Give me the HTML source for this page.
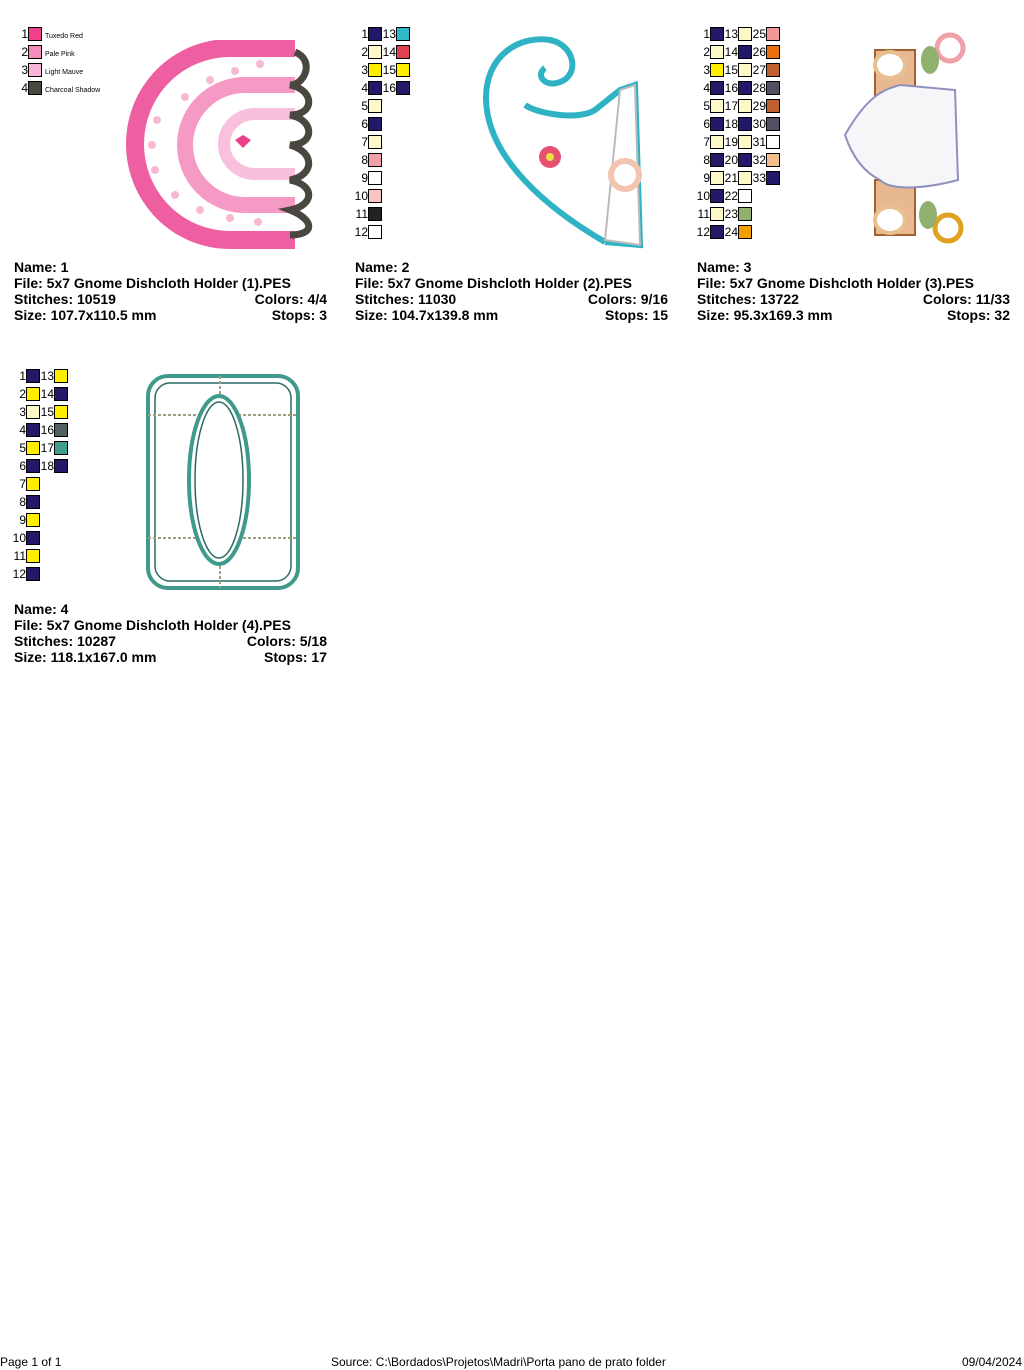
<!DOCTYPE html>
<html><head><style>
body{margin:0;width:1024px;height:1370px;background:#fff;position:relative;font-family:"Liberation Sans",Arial,sans-serif;overflow:hidden}
.a{position:absolute}
.r{height:18px;line-height:18px;font-size:12px;white-space:nowrap}
.num{display:inline-block;text-align:right;width:14px;vertical-align:top}
.s{display:inline-block;width:12px;height:12px;border:1px solid #000;vertical-align:top;margin-top:2px}
.info{position:absolute;font-weight:bold;font-size:14px;line-height:16px;width:313px}
.info div{position:relative;height:16px}
.info span.rt{position:absolute;right:0}
.cN{background:#221a66}.cC{background:#fff8c8}.cY{background:#ffee00}.cW{background:#fff}
.ft{position:absolute;top:1355px;font-size:12px}
</style></head><body>

<div class="a" style="left:14px;top:25px">
<div class="r"><span class="num">1</span><span class="s" style="background:#f0408c"></span><span style="font-size:7px;margin-left:3px">Tuxedo Red</span></div>
<div class="r"><span class="num">2</span><span class="s" style="background:#f58cbc"></span><span style="font-size:7px;margin-left:3px">Pale Pink</span></div>
<div class="r"><span class="num">3</span><span class="s" style="background:#fab4d8"></span><span style="font-size:7px;margin-left:3px">Light Mauve</span></div>
<div class="r"><span class="num">4</span><span class="s" style="background:#4a4640"></span><span style="font-size:7px;margin-left:3px">Charcoal Shadow</span></div>
</div>
<svg class="a" style="left:120px;top:40px" width="210" height="210">
<path d="M175 8 L110 8 A95 96 0 0 0 110 200 L175 200" fill="none" stroke="#ee5fa2" stroke-width="18"/>
<path d="M175 45 L125 45 A60 60 0 0 0 125 165 L175 165" fill="none" stroke="#f49ac4" stroke-width="16"/>
<path d="M175 74 L135 74 A31 30 0 0 0 135 134 L175 134" fill="none" stroke="#f8c0dc" stroke-width="12"/>
<path d="M115 100 l8 -5 l8 5 l-8 8z" fill="#ec3f8c"/>
<g fill="#f7b8d4"><circle cx="140" cy="24" r="4"/><circle cx="115" cy="31" r="4"/><circle cx="90" cy="40" r="4"/><circle cx="65" cy="57" r="4"/><circle cx="37" cy="80" r="4"/><circle cx="32" cy="105" r="4"/><circle cx="35" cy="130" r="4"/><circle cx="55" cy="155" r="4"/><circle cx="80" cy="170" r="4"/><circle cx="110" cy="178" r="4"/><circle cx="138" cy="182" r="4"/></g>
<path d="M175 12 C195 20 185 45 170 45 C195 50 195 75 170 75 C195 80 195 105 170 105 C195 112 195 135 170 140 C195 145 195 165 170 170 C195 180 195 195 170 195" fill="none" stroke="#4a4640" stroke-width="7"/>
</svg>
<div class="info" style="left:14px;top:259px">
<div>Name: 1</div><div>File: 5x7 Gnome Dishcloth Holder (1).PES</div>
<div>Stitches: 10519<span class="rt">Colors: 4/4</span></div>
<div>Size: 107.7x110.5 mm<span class="rt">Stops: 3</span></div></div>

<div class="a" style="left:354px;top:25px">
<div class="r"><span class="num">1</span><span class="s cN"></span><span class="num">13</span><span class="s" style="background:#30b8c8"></span></div>
<div class="r"><span class="num">2</span><span class="s cC"></span><span class="num">14</span><span class="s" style="background:#e04050"></span></div>
<div class="r"><span class="num">3</span><span class="s cY"></span><span class="num">15</span><span class="s cY"></span></div>
<div class="r"><span class="num">4</span><span class="s cN"></span><span class="num">16</span><span class="s cN"></span></div>
<div class="r"><span class="num">5</span><span class="s cC"></span></div>
<div class="r"><span class="num">6</span><span class="s cN"></span></div>
<div class="r"><span class="num">7</span><span class="s cC"></span></div>
<div class="r"><span class="num">8</span><span class="s" style="background:#f0a0a8"></span></div>
<div class="r"><span class="num">9</span><span class="s cW"></span></div>
<div class="r"><span class="num">10</span><span class="s" style="background:#f8c4c4"></span></div>
<div class="r"><span class="num">11</span><span class="s" style="background:#222"></span></div>
<div class="r"><span class="num">12</span><span class="s cW"></span></div>
</div>
<svg class="a" style="left:480px;top:30px" width="170" height="220">
<path d="M125 212 C70 180 8 130 6 70 C5 25 40 5 70 10 C95 15 100 45 80 52 C65 58 55 45 65 38 M125 212 L160 215 L155 55 L140 60 L115 80 C100 90 60 85 45 75" fill="#fff" stroke="#2fb3c4" stroke-width="6"/>
<path d="M140 60 L155 55 L160 215 L125 210z" fill="#fff" stroke="#bbb" stroke-width="2"/>
<circle cx="145" cy="145" r="14" fill="#fff" stroke="#f3c4b0" stroke-width="6"/>
<circle cx="70" cy="127" r="11" fill="#e85070"/><circle cx="70" cy="127" r="4" fill="#e8e040"/>
</svg>
<div class="info" style="left:355px;top:259px">
<div>Name: 2</div><div>File: 5x7 Gnome Dishcloth Holder (2).PES</div>
<div>Stitches: 11030<span class="rt">Colors: 9/16</span></div>
<div>Size: 104.7x139.8 mm<span class="rt">Stops: 15</span></div></div>

<div class="a" style="left:696px;top:25px">
<div class="r"><span class="num">1</span><span class="s cN"></span><span class="num">13</span><span class="s cC"></span><span class="num">25</span><span class="s" style="background:#f09898"></span></div>
<div class="r"><span class="num">2</span><span class="s cC"></span><span class="num">14</span><span class="s cN"></span><span class="num">26</span><span class="s" style="background:#e87010"></span></div>
<div class="r"><span class="num">3</span><span class="s cY"></span><span class="num">15</span><span class="s cC"></span><span class="num">27</span><span class="s" style="background:#c06030"></span></div>
<div class="r"><span class="num">4</span><span class="s cN"></span><span class="num">16</span><span class="s cN"></span><span class="num">28</span><span class="s" style="background:#505060"></span></div>
<div class="r"><span class="num">5</span><span class="s cC"></span><span class="num">17</span><span class="s cC"></span><span class="num">29</span><span class="s" style="background:#c06030"></span></div>
<div class="r"><span class="num">6</span><span class="s cN"></span><span class="num">18</span><span class="s cN"></span><span class="num">30</span><span class="s" style="background:#505060"></span></div>
<div class="r"><span class="num">7</span><span class="s cC"></span><span class="num">19</span><span class="s cC"></span><span class="num">31</span><span class="s cW"></span></div>
<div class="r"><span class="num">8</span><span class="s cN"></span><span class="num">20</span><span class="s cN"></span><span class="num">32</span><span class="s" style="background:#f0c090"></span></div>
<div class="r"><span class="num">9</span><span class="s cC"></span><span class="num">21</span><span class="s cC"></span><span class="num">33</span><span class="s cN"></span></div>
<div class="r"><span class="num">10</span><span class="s cN"></span><span class="num">22</span><span class="s cW"></span></div>
<div class="r"><span class="num">11</span><span class="s cC"></span><span class="num">23</span><span class="s" style="background:#90b070"></span></div>
<div class="r"><span class="num">12</span><span class="s cN"></span><span class="num">24</span><span class="s" style="background:#f0a000"></span></div>
</div>
<svg class="a" style="left:840px;top:30px" width="130" height="220">
<rect x="35" y="20" width="40" height="55" fill="#e8b890" stroke="#a06030" stroke-width="2"/>
<rect x="35" y="150" width="40" height="55" fill="#e8b890" stroke="#a06030" stroke-width="2"/>
<circle cx="110" cy="18" r="13" fill="#fff" stroke="#f0a0a8" stroke-width="5"/>
<circle cx="108" cy="198" r="13" fill="#fff" stroke="#e0a020" stroke-width="5"/>
<ellipse cx="90" cy="30" rx="9" ry="14" fill="#90b070"/><ellipse cx="88" cy="185" rx="9" ry="14" fill="#90b070"/>
<ellipse cx="50" cy="35" rx="15" ry="13" fill="#fff" stroke="#e8c090" stroke-width="4"/>
<ellipse cx="50" cy="190" rx="15" ry="13" fill="#fff" stroke="#e8c090" stroke-width="4"/>
<path d="M5 105 C25 70 40 60 60 55 L115 60 L118 150 C80 160 50 160 40 150 C20 140 10 120 5 105z" fill="#f6f6f8" stroke="#9090c0" stroke-width="2"/>
</svg>
<div class="info" style="left:697px;top:259px">
<div>Name: 3</div><div>File: 5x7 Gnome Dishcloth Holder (3).PES</div>
<div>Stitches: 13722<span class="rt">Colors: 11/33</span></div>
<div>Size: 95.3x169.3 mm<span class="rt">Stops: 32</span></div></div>

<div class="a" style="left:12px;top:367px">
<div class="r"><span class="num">1</span><span class="s cN"></span><span class="num">13</span><span class="s cY"></span></div>
<div class="r"><span class="num">2</span><span class="s cY"></span><span class="num">14</span><span class="s cN"></span></div>
<div class="r"><span class="num">3</span><span class="s cC"></span><span class="num">15</span><span class="s cY"></span></div>
<div class="r"><span class="num">4</span><span class="s cN"></span><span class="num">16</span><span class="s" style="background:#506060"></span></div>
<div class="r"><span class="num">5</span><span class="s cY"></span><span class="num">17</span><span class="s" style="background:#40a090"></span></div>
<div class="r"><span class="num">6</span><span class="s cN"></span><span class="num">18</span><span class="s cN"></span></div>
<div class="r"><span class="num">7</span><span class="s cY"></span></div>
<div class="r"><span class="num">8</span><span class="s cN"></span></div>
<div class="r"><span class="num">9</span><span class="s cY"></span></div>
<div class="r"><span class="num">10</span><span class="s cN"></span></div>
<div class="r"><span class="num">11</span><span class="s cY"></span></div>
<div class="r"><span class="num">12</span><span class="s cN"></span></div>
</div>
<svg class="a" style="left:140px;top:370px" width="165" height="225">
<rect x="8" y="6" width="150" height="212" rx="20" fill="#fff" stroke="#3f9a8c" stroke-width="4"/>
<rect x="15" y="13" width="136" height="198" rx="15" fill="none" stroke="#2a6a66" stroke-width="1.5"/>
<g stroke="#a0a080" stroke-width="2" stroke-dasharray="3 2"><line x1="8" y1="45" x2="158" y2="45"/><line x1="8" y1="168" x2="158" y2="168"/><line x1="80" y1="6" x2="80" y2="218"/></g>
<ellipse cx="79" cy="110" rx="30" ry="84" fill="#fff" stroke="#3f9a8c" stroke-width="4"/>
<ellipse cx="79" cy="110" rx="24" ry="78" fill="none" stroke="#2a6a66" stroke-width="1.5"/>
</svg>
<div class="info" style="left:14px;top:601px">
<div>Name: 4</div><div>File: 5x7 Gnome Dishcloth Holder (4).PES</div>
<div>Stitches: 10287<span class="rt">Colors: 5/18</span></div>
<div>Size: 118.1x167.0 mm<span class="rt">Stops: 17</span></div></div>

<div class="ft" style="left:0">Page 1 of 1</div>
<div class="ft" style="left:331px">Source: C:\Bordados\Projetos\Madri\Porta pano de prato folder</div>
<div class="ft" style="right:2px">09/04/2024</div>
</body></html>
